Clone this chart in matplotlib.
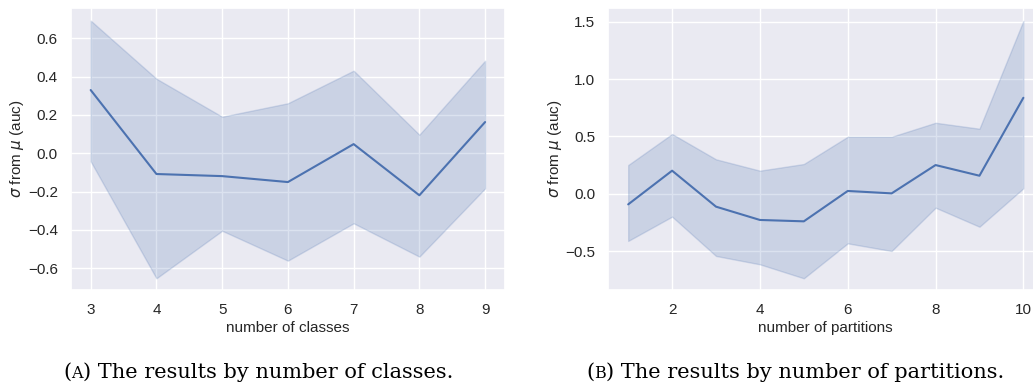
import matplotlib
matplotlib.use("Agg")
import matplotlib.pyplot as plt
import seaborn as sns
from matplotlib.offsetbox import TextArea, HPacker, AnchoredOffsetbox

sns.set_theme(style="darkgrid")
plt.rcParams["font.family"] = ["Liberation Sans", "DejaVu Sans"]

# results by number of classes
n_classes = [3, 4, 5, 6, 7, 8, 9]
classes_mean = [0.33, -0.108, -0.119, -0.15, 0.048, -0.219, 0.163]
classes_hi = [0.692, 0.389, 0.191, 0.261, 0.431, 0.097, 0.483]
classes_lo = [-0.042, -0.652, -0.404, -0.560, -0.365, -0.539, -0.183]

# results by number of partitions
n_parts = [1, 2, 3, 4, 5, 6, 7, 8, 9, 10]
parts_mean = [-0.093, 0.201, -0.113, -0.229, -0.241, 0.024, 0.003, 0.250, 0.157, 0.837]
parts_hi = [0.250, 0.521, 0.300, 0.201, 0.259, 0.497, 0.497, 0.619, 0.567, 1.508]
parts_lo = [-0.412, -0.200, -0.543, -0.616, -0.738, -0.433, -0.500, -0.122, -0.288, 0.047]

blue = sns.color_palette("deep")[0]

fig = plt.figure(figsize=(10.33, 3.89), dpi=100)
ax1 = fig.add_axes([0.0687, 0.2545, 0.420, 0.724])
ax2 = fig.add_axes([0.589, 0.2545, 0.4208, 0.724])


def draw(ax, x, mean, lo, hi, xlabel):
    ax.fill_between(x, lo, hi, color=blue, alpha=0.2)
    ax.plot(x, mean, color=blue, linewidth=1.5)
    ax.set_xlabel(xlabel, fontsize=11, labelpad=3)
    ax.set_ylabel(r"$\sigma$ from $\mu$ (auc)", fontsize=11, labelpad=1)
    ax.tick_params(labelsize=11)
    pad = 0.05 * (x[-1] - x[0])
    ax.set_xlim(x[0] - pad, x[-1] + pad)


draw(ax1, n_classes, classes_mean, classes_lo, classes_hi, "number of classes")
ax1.set_ylim(-0.713, 0.756)
ax1.set_yticks([-0.6, -0.4, -0.2, 0.0, 0.2, 0.4, 0.6])
ax1.set_xticks(n_classes)

draw(ax2, n_parts, parts_mean, parts_lo, parts_hi, "number of partitions")
ax2.set_ylim(-0.84, 1.617)
ax2.set_yticks([-0.5, 0.0, 0.5, 1.0, 1.5])
ax2.set_xticks([2, 4, 6, 8, 10])


def caption(letter, text, xc):
    serif = dict(family=["DejaVu Serif"], color="black")
    parts = [TextArea("(", textprops=dict(size=15, **serif)),
             TextArea(letter, textprops=dict(size=11.5, **serif)),
             TextArea(") " + text, textprops=dict(size=15, **serif))]
    box = HPacker(children=parts, align="baseline", pad=0, sep=0)
    anchored = AnchoredOffsetbox(loc="center", child=box, frameon=False,
                                 bbox_to_anchor=(xc, 0.043),
                                 bbox_transform=fig.transFigure, borderpad=0)
    fig.add_artist(anchored)


caption("A", "The results by number of classes.", 0.25)
caption("B", "The results by number of partitions.", 0.77)

fig.savefig("out.png", dpi=100)
